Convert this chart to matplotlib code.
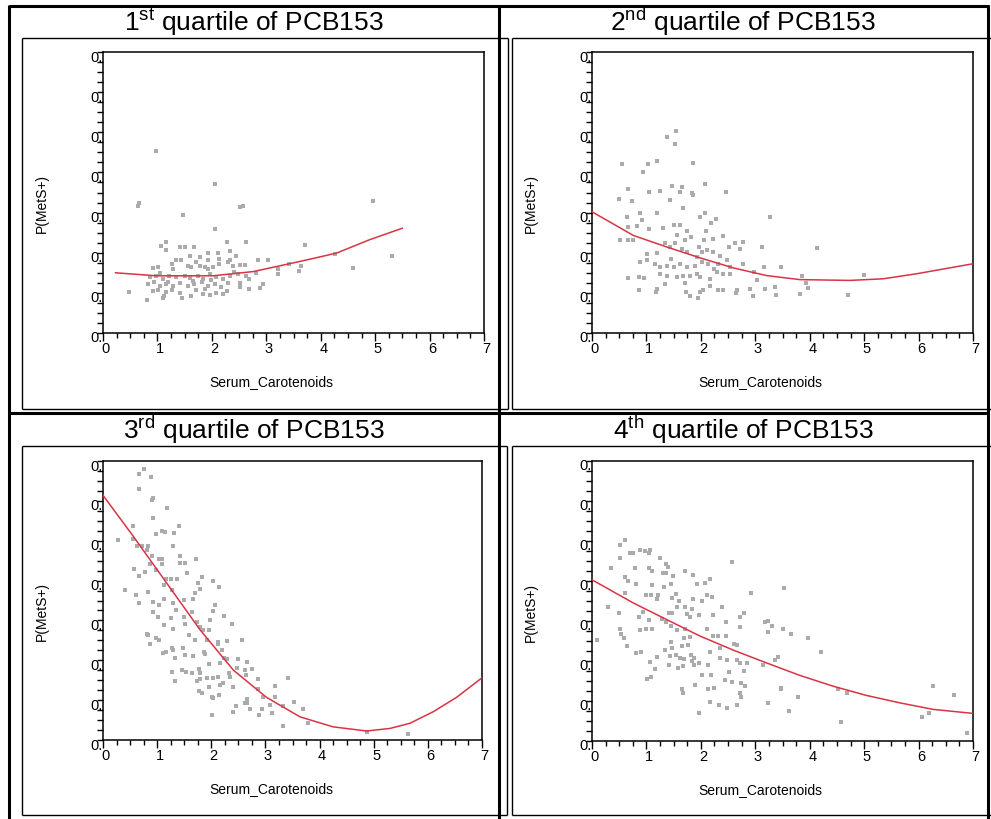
import numpy as np
import matplotlib
matplotlib.use('Agg')
import matplotlib.pyplot as plt
import matplotlib.transforms as mtransforms
from matplotlib.lines import Line2D
from matplotlib.ticker import MultipleLocator

plt.rcParams['font.family'] = ['Liberation Sans', 'DejaVu Sans']
plt.rcParams['mathtext.fontset'] = 'custom'
plt.rcParams['mathtext.rm'] = 'Liberation Sans'
plt.rcParams['mathtext.it'] = 'Liberation Sans:italic'

titles = [r'1$^{\mathrm{st}}$ quartile of PCB153', r'2$^{\mathrm{nd}}$ quartile of PCB153',
          r'3$^{\mathrm{rd}}$ quartile of PCB153', r'4$^{\mathrm{th}}$ quartile of PCB153']
x_label = 'Serum_Carotenoids'
y_label = 'P(MetS+)'
y_ticks = [0, 0.1, 0.2, 0.3, 0.4, 0.5, 0.6, 0.7]
y_tick_labels = ['0.'] * 8

# 1st quartile: observed (serum carotenoids, predicted probability)
q1_points = [
    (0.98, 0.453), (0.67, 0.325), (0.65, 0.317), (2.06, 0.371), (1.47, 0.293), (2.57, 0.316),
    (2.51, 0.313), (2.06, 0.258), (4.96, 0.328), (2.27, 0.227), (2.63, 0.227), (3.72, 0.218),
    (5.31, 0.192), (4.27, 0.196), (4.60, 0.161), (0.48, 0.102), (0.80, 0.083), (1.46, 0.087),
    (1.10, 0.087), (1.12, 0.091), (1.15, 0.227), (1.07, 0.217), (1.16, 0.207), (1.41, 0.214),
    (1.50, 0.214), (1.67, 0.214), (1.59, 0.193), (1.92, 0.199), (2.11, 0.200), (2.33, 0.204),
    (2.44, 0.192), (2.85, 0.183), (3.03, 0.183), (3.64, 0.168), (3.61, 0.154), (3.42, 0.173),
    (3.21, 0.160), (3.21, 0.146), (2.94, 0.121), (2.88, 0.113), (2.69, 0.110), (2.52, 0.114),
    (0.92, 0.162), (1.01, 0.164), (1.29, 0.160), (1.44, 0.181), (1.56, 0.167), (1.62, 0.164),
    (1.71, 0.177), (1.78, 0.168), (1.87, 0.164), (1.93, 0.160), (2.02, 0.164), (2.14, 0.172),
    (2.30, 0.177), (2.39, 0.168), (2.51, 0.170), (2.60, 0.170),
    (0.86, 0.139), (0.98, 0.143), (1.10, 0.135), (1.22, 0.143), (1.35, 0.139), (1.50, 0.143),
    (1.59, 0.137), (1.75, 0.141), (1.84, 0.135), (1.96, 0.147), (2.08, 0.139), (2.20, 0.135),
    (2.33, 0.143), (2.48, 0.147), (2.63, 0.143), (2.82, 0.149),
    (0.83, 0.122), (0.93, 0.127), (1.04, 0.116), (1.16, 0.122), (1.29, 0.118), (1.41, 0.124),
    (1.56, 0.118), (1.68, 0.122), (1.81, 0.127), (1.93, 0.118), (2.05, 0.122), (2.17, 0.114),
    (2.30, 0.124), (2.51, 0.124), (2.69, 0.135),
    (0.92, 0.104), (1.01, 0.107), (1.16, 0.102), (1.26, 0.106), (1.41, 0.099), (1.62, 0.093),
    (1.71, 0.106), (1.84, 0.097), (1.96, 0.095), (2.08, 0.099), (2.20, 0.097), (2.27, 0.104),
    (1.87, 0.110), (1.26, 0.172), (1.35, 0.181), (1.78, 0.189), (1.93, 0.182), (2.14, 0.185),
    (2.33, 0.182), (1.05, 0.150), (1.20, 0.128), (1.66, 0.130), (1.99, 0.131), (2.40, 0.152),
]
q1_fit_x = [0.23, 0.98, 2.02, 2.76, 3.61, 4.29, 4.90, 5.50]
q1_fit_y = [0.150, 0.1425, 0.1425, 0.153, 0.178, 0.199, 0.2325, 0.261]

# 2nd quartile
q2_points = [
    (1.55, 0.503), (1.38, 0.488), (1.52, 0.471), (0.55, 0.422), (1.02, 0.421), (1.19, 0.428),
    (0.94, 0.402), (1.86, 0.424), (0.67, 0.358), (1.05, 0.352), (1.25, 0.354), (1.47, 0.367),
    (1.62, 0.352), (1.66, 0.363), (1.83, 0.350), (1.86, 0.344), (2.07, 0.371), (2.46, 0.352),
    (0.50, 0.335), (0.73, 0.328), (1.44, 0.331), (1.67, 0.312), (0.89, 0.298), (1.19, 0.298),
    (0.64, 0.289), (0.91, 0.281), (1.99, 0.289), (2.08, 0.298), (2.28, 0.284), (2.18, 0.274),
    (3.27, 0.289), (1.31, 0.262), (1.50, 0.270), (1.61, 0.270), (0.67, 0.264), (0.82, 0.266),
    (1.05, 0.258), (2.10, 0.254), (0.52, 0.231), (0.67, 0.231), (0.76, 0.231), (1.74, 0.254),
    (1.82, 0.238), (2.05, 0.231), (2.22, 0.233), (2.41, 0.242), (2.63, 0.225), (2.77, 0.227),
    (2.72, 0.210), (2.52, 0.213), (3.12, 0.214), (4.14, 0.212), (1.01, 0.196), (1.19, 0.200),
    (0.89, 0.177), (1.01, 0.181), (2.48, 0.183), (2.78, 0.173), (3.16, 0.164), (3.47, 0.164),
    (2.97, 0.152), (3.03, 0.133), (3.85, 0.141), (3.94, 0.125), (4.99, 0.145), (0.67, 0.138),
    (0.86, 0.139), (0.95, 0.138), (0.87, 0.106), (1.17, 0.102), (1.19, 0.110), (1.34, 0.121),
    (1.71, 0.125), (1.72, 0.102), (1.80, 0.091), (1.95, 0.087), (1.98, 0.102), (2.04, 0.106),
    (2.16, 0.117), (2.32, 0.106), (2.40, 0.106), (2.65, 0.099), (2.66, 0.108), (2.96, 0.091),
    (2.90, 0.109), (3.18, 0.110), (3.36, 0.114), (3.38, 0.094), (3.82, 0.098), (3.96, 0.113),
    (4.71, 0.095),
    (1.34, 0.223), (1.44, 0.214), (1.53, 0.223), (1.65, 0.210), (1.74, 0.202), (1.93, 0.189),
    (2.02, 0.202), (2.23, 0.202), (2.35, 0.193),
    (1.16, 0.173), (1.25, 0.164), (1.38, 0.168), (1.50, 0.164), (1.62, 0.173), (1.74, 0.164),
    (1.89, 0.168), (2.02, 0.177), (2.14, 0.173), (2.32, 0.171), (2.54, 0.164),
    (1.25, 0.148), (1.38, 0.143), (1.56, 0.139), (1.68, 0.141), (1.80, 0.143), (1.93, 0.148),
    (1.99, 0.139), (2.16, 0.135), (2.29, 0.152), (2.41, 0.146), (2.54, 0.148),
    (1.56, 0.243), (1.71, 0.231), (1.96, 0.214), (2.11, 0.206), (1.45, 0.185), (2.25, 0.160),
]
q2_fit_x = [0.0, 0.76, 1.38, 1.99, 2.60, 3.21, 3.82, 4.74, 5.35, 5.96, 7.0]
q2_fit_y = [0.302, 0.243, 0.214, 0.187, 0.162, 0.143, 0.133, 0.131, 0.135, 0.1475, 0.1725]

# 3rd quartile
q3_points = [
    (0.75, 0.679), (0.66, 0.668), (0.89, 0.660), (0.66, 0.629), (0.92, 0.606), (0.90, 0.602),
    (1.18, 0.582), (0.92, 0.556), (0.55, 0.536), (1.40, 0.536), (1.09, 0.525), (1.14, 0.522),
    (0.98, 0.516), (1.32, 0.520), (0.27, 0.501), (0.55, 0.505), (0.63, 0.486), (0.72, 0.486),
    (0.83, 0.486), (0.81, 0.476), (1.30, 0.486), (0.90, 0.461), (1.03, 0.454), (1.09, 0.454),
    (1.09, 0.441), (1.43, 0.461), (1.43, 0.443), (1.52, 0.443), (1.72, 0.454), (0.57, 0.428),
    (0.87, 0.441), (0.66, 0.412), (0.78, 0.422), (0.98, 0.426), (1.17, 0.405), (1.26, 0.403),
    (1.36, 0.405), (1.55, 0.419), (1.83, 0.409), (1.76, 0.394), (2.04, 0.399), (2.15, 0.384),
    (0.40, 0.376), (0.61, 0.363), (0.66, 0.343), (0.84, 0.372), (1.12, 0.388), (1.27, 0.376),
    (1.49, 0.351), (1.66, 0.355), (1.69, 0.368), (1.79, 0.380), (2.07, 0.338), (0.93, 0.345),
    (1.03, 0.338), (1.13, 0.353), (1.35, 0.327), (1.30, 0.343), (1.64, 0.322), (2.04, 0.323),
    (0.93, 0.322), (1.01, 0.309), (1.26, 0.305), (1.49, 0.309), (1.98, 0.302), (2.24, 0.312),
    (1.73, 0.295), (1.79, 0.284), (2.39, 0.292), (1.13, 0.288), (1.52, 0.292), (1.30, 0.278),
    (1.84, 0.276), (1.95, 0.276), (0.81, 0.266), (0.84, 0.263), (0.87, 0.242), (0.98, 0.257),
    (1.04, 0.251), (1.58, 0.263), (1.69, 0.252), (1.92, 0.252), (2.13, 0.246), (2.13, 0.240),
    (2.29, 0.249), (2.56, 0.252), (1.10, 0.219), (1.16, 0.221), (1.27, 0.232), (1.30, 0.227),
    (1.48, 0.230), (1.66, 0.210), (1.52, 0.213), (1.87, 0.221), (1.88, 0.217), (1.33, 0.205),
    (2.19, 0.227), (2.24, 0.205), (2.29, 0.202), (2.49, 0.202), (2.66, 0.196), (2.76, 0.177),
    (2.16, 0.192), (1.95, 0.190), (1.78, 0.178), (1.79, 0.167), (1.46, 0.175), (1.54, 0.171),
    (1.64, 0.167), (1.27, 0.171), (1.33, 0.148), (1.73, 0.149), (1.79, 0.152), (1.92, 0.155),
    (2.04, 0.156), (2.13, 0.159), (2.32, 0.167), (2.34, 0.159), (2.47, 0.180), (2.62, 0.175),
    (2.64, 0.163), (2.87, 0.152), (3.41, 0.156), (1.78, 0.123), (1.83, 0.119), (1.95, 0.132),
    (2.16, 0.138), (2.22, 0.142), (2.41, 0.132), (2.87, 0.129), (3.18, 0.136), (2.01, 0.107),
    (2.04, 0.106), (2.15, 0.112), (2.66, 0.103), (2.66, 0.094), (2.63, 0.094), (2.95, 0.109),
    (3.18, 0.109), (3.09, 0.089), (3.53, 0.096), (2.46, 0.085), (2.41, 0.071), (2.72, 0.077),
    (2.93, 0.078), (3.13, 0.067), (3.33, 0.086), (3.70, 0.078), (2.02, 0.063), (2.89, 0.063),
    (3.32, 0.035), (3.79, 0.042), (4.87, 0.019), (5.64, 0.015),
]
q3_fit_x = [0.0, 0.565, 1.18, 1.795, 2.41, 3.02, 3.64, 4.25, 4.87, 5.30, 5.67, 6.10, 6.53, 7.0]
q3_fit_y = [0.614, 0.510, 0.393, 0.276, 0.175, 0.107, 0.058, 0.033, 0.0226, 0.029, 0.042, 0.071,
            0.107, 0.156]

# 4th quartile
q4_points = [
    (0.61, 0.502), (0.52, 0.490), (0.69, 0.471), (0.75, 0.471), (0.89, 0.478), (0.98, 0.475),
    (1.07, 0.478), (1.05, 0.469), (0.52, 0.458), (1.25, 0.458), (1.36, 0.443), (1.39, 0.434),
    (2.57, 0.447), (0.35, 0.432), (0.79, 0.432), (1.05, 0.432), (1.10, 0.424), (1.31, 0.419),
    (1.36, 0.419), (1.49, 0.413), (1.71, 0.424), (1.86, 0.414), (0.61, 0.409), (0.67, 0.401),
    (2.16, 0.404), (2.08, 0.394), (0.81, 0.393), (1.10, 0.390), (1.33, 0.386), (1.45, 0.393),
    (1.93, 0.393), (3.53, 0.382), (2.92, 0.370), (0.61, 0.371), (1.00, 0.365), (1.08, 0.365),
    (1.22, 0.365), (1.55, 0.368), (2.11, 0.365), (2.20, 0.361), (1.19, 0.355), (1.47, 0.357),
    (1.59, 0.351), (1.85, 0.355), (2.02, 0.349), (0.29, 0.335), (0.49, 0.320), (0.86, 0.310),
    (0.94, 0.322), (1.41, 0.320), (1.47, 0.320), (1.56, 0.336), (1.71, 0.336), (1.83, 0.330),
    (1.74, 0.318), (1.80, 0.311), (1.97, 0.314), (2.22, 0.314), (2.38, 0.335), (2.71, 0.311),
    (2.80, 0.320), (1.05, 0.303), (1.28, 0.305), (1.36, 0.297), (2.46, 0.297), (3.18, 0.297),
    (3.24, 0.301), (3.30, 0.288), (3.50, 0.281), (0.52, 0.280), (0.54, 0.268), (0.89, 0.278),
    (0.99, 0.281), (1.10, 0.281), (1.45, 0.287), (1.56, 0.278), (1.71, 0.281), (2.11, 0.280),
    (2.71, 0.285), (3.24, 0.272), (3.65, 0.268), (0.09, 0.253), (0.58, 0.257), (1.69, 0.257),
    (1.80, 0.260), (2.23, 0.262), (2.32, 0.262), (2.46, 0.262), (3.97, 0.257), (1.45, 0.247),
    (1.47, 0.233), (1.66, 0.238), (1.77, 0.241), (0.64, 0.238), (2.60, 0.243), (2.66, 0.241),
    (2.16, 0.223), (2.35, 0.233), (4.20, 0.223), (0.81, 0.220), (0.90, 0.223), (1.34, 0.227),
    (1.44, 0.213), (1.55, 0.214), (1.62, 0.208), (1.82, 0.214), (1.88, 0.208), (1.07, 0.198),
    (1.19, 0.210), (1.41, 0.191), (1.58, 0.183), (1.67, 0.187), (1.69, 0.205), (1.83, 0.199),
    (1.88, 0.191), (1.97, 0.195), (2.14, 0.191), (2.35, 0.208), (2.48, 0.203), (2.66, 0.203),
    (2.71, 0.194), (2.84, 0.194), (2.80, 0.174), (3.15, 0.191), (3.36, 0.202), (3.41, 0.210),
    (1.16, 0.180), (2.51, 0.173), (1.01, 0.154), (1.08, 0.160), (2.02, 0.164), (2.19, 0.164),
    (1.90, 0.141), (2.14, 0.129), (2.24, 0.133), (2.45, 0.152), (2.58, 0.147), (2.73, 0.145),
    (2.82, 0.137), (1.65, 0.129), (1.68, 0.120), (2.71, 0.120), (2.73, 0.110), (3.47, 0.133),
    (3.47, 0.129), (3.79, 0.110), (4.52, 0.129), (4.69, 0.120), (6.27, 0.137), (6.65, 0.114),
    (2.16, 0.098), (2.33, 0.090), (2.48, 0.082), (2.66, 0.091), (3.24, 0.094), (1.96, 0.071),
    (3.62, 0.075), (6.07, 0.060), (6.19, 0.071), (4.57, 0.048), (6.89, 0.021),
]
q4_fit_x = [0.0, 0.76, 1.38, 1.99, 2.60, 3.21, 3.82, 4.43, 5.04, 5.65, 6.27, 7.0]
q4_fit_y = [0.403, 0.345, 0.303, 0.262, 0.227, 0.195, 0.164, 0.137, 0.114, 0.0955, 0.079, 0.069]

panels = [(q1_points, q1_fit_x, q1_fit_y), (q2_points, q2_fit_x, q2_fit_y),
          (q3_points, q3_fit_x, q3_fit_y), (q4_points, q4_fit_x, q4_fit_y)]

W, H = 991, 819
fig = plt.figure(figsize=(W / 100, H / 100), dpi=100)
fig.patch.set_facecolor('white')


def line(x0, y0, x1, y1, lw):
    # pixel coords, origin top-left
    fig.add_artist(Line2D([x0 / W, x1 / W], [1 - y0 / H, 1 - y1 / H], color='black',
                          lw=lw, transform=fig.transFigure, solid_capstyle='butt'))


def box(x0, y0, x1, y1, lw=1.0):
    line(x0, y0, x1, y0, lw)
    line(x1, y0, x1, y1, lw)
    line(x1, y1, x0, y1, lw)
    line(x0, y1, x0, y0, lw)


# thin inner frames
box(22, 38, 508, 409)
box(512, 38, 1000, 409)
box(22, 446, 507, 815)
box(512, 446, 1000, 815)
# thick cell grid
line(9, 6, 989, 6, 2.2)
line(9, 413, 989, 413, 2.2)
line(9, 5, 9, 819, 2.2)
line(499, 5, 499, 819, 2.2)
line(988, 5, 988, 819, 2.2)

# axes boxes in pixels: left, top, right, bottom
ax_px = [(103, 52, 484, 333), (592, 52, 973, 333), (103, 461, 482, 740), (592, 461, 973, 741)]
title_px = [(254, 31), (743, 31), (254, 439), (743, 439)]

for i, (pts, fx, fy) in enumerate(panels):
    l, t, r, b = ax_px[i]
    ax = fig.add_axes([l / W, 1 - b / H, (r - l) / W, (b - t) / H])
    pts = np.array(pts)
    ax.scatter(pts[:, 0], pts[:, 1], s=6, marker='s', color='#ababab', linewidths=0, zorder=2)
    ax.plot(fx, fy, color='#d93344', lw=1.1, zorder=3)
    ax.set_xlim(0, 7)
    ax.set_ylim(0, 0.7)
    ax.xaxis.set_major_locator(MultipleLocator(1))
    ax.xaxis.set_minor_locator(MultipleLocator(0.25))
    ax.set_yticks(y_ticks, y_tick_labels)
    ax.yaxis.set_minor_locator(MultipleLocator(0.025))
    for s in ax.spines.values():
        s.set_linewidth(1.1)
    ax.tick_params(axis='x', which='major', direction='out', length=6, width=1, labelsize=10.5, pad=0.5)
    ax.tick_params(axis='x', which='minor', direction='out', length=3.5, width=1)
    ax.tick_params(axis='y', which='major', direction='out', length=4, width=1, labelsize=10.5, pad=-3.5)
    ax.tick_params(axis='y', which='minor', direction='out', length=4, width=1)
    for lbl in ax.get_yticklabels():
        lbl.set_transform(lbl.get_transform() + mtransforms.ScaledTranslation(0, -0.04, fig.dpi_scale_trans))
    for lbl in ax.get_xticklabels():
        lbl.set_transform(lbl.get_transform() + mtransforms.ScaledTranslation(0.025, 0, fig.dpi_scale_trans))
    aw, ah = r - l, b - t
    ax.text((271 - 103) / aw, -(382 - 333) / ah, x_label, transform=ax.transAxes,
            ha='center', va='center', fontsize=10)
    ax.text(-(103 - 42) / aw, 0.5 - 11 / ah, y_label, transform=ax.transAxes,
            ha='center', va='center', rotation=90, fontsize=10)
    tx, ty = title_px[i]
    fig.text(tx / W, 1 - ty / H, titles[i], ha='center', va='baseline', fontsize=19)

fig.savefig('out.png', dpi=100, facecolor='white')
